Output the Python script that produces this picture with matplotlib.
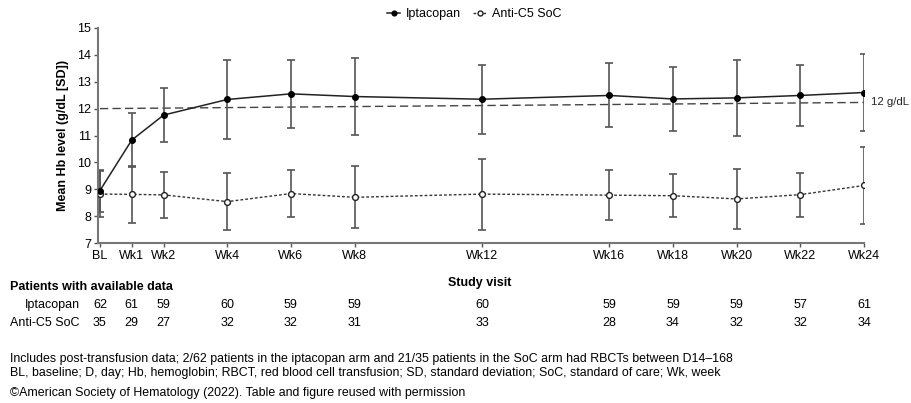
import numpy as np
import matplotlib
matplotlib.use("Agg")
import matplotlib.pyplot as plt
from matplotlib.transforms import blended_transform_factory

plt.rcParams['font.family'] = ['Liberation Sans', 'DejaVu Sans']

# study visits (weeks) and their labels
weeks = [0, 1, 2, 4, 6, 8, 12, 16, 18, 20, 22, 24]
visit_labels = ['BL', 'Wk1', 'Wk2', 'Wk4', 'Wk6', 'Wk8', 'Wk12',
                'Wk16', 'Wk18', 'Wk20', 'Wk22', 'Wk24']

# mean Hb (g/dL) and SD
ipta_mean = [8.95, 10.83, 11.76, 12.34, 12.55, 12.45, 12.35, 12.49, 12.36, 12.40, 12.49, 12.60]
ipta_sd = [0.78, 1.00, 1.02, 1.47, 1.27, 1.43, 1.28, 1.19, 1.20, 1.42, 1.13, 1.43]
soc_mean = [8.82, 8.81, 8.79, 8.54, 8.84, 8.70, 8.82, 8.78, 8.76, 8.64, 8.80, 9.14]
soc_sd = [0.85, 1.06, 0.85, 1.05, 0.86, 1.15, 1.32, 0.92, 0.80, 1.11, 0.82, 1.42]

# reference line (drawn slightly sloped in the source figure)
ref_x = [0, 24]
ref_y = [12.0, 12.23]

# patients with available data
n_ipta = [62, 61, 59, 60, 59, 59, 60, 59, 59, 59, 57, 61]
n_soc = [35, 29, 27, 32, 32, 31, 33, 28, 34, 32, 32, 34]

footnotes = [
    "Includes post-transfusion data; 2/62 patients in the iptacopan arm and 21/35 patients in the SoC arm had RBCTs between D14\u2013168",
    "BL, baseline; D, day; Hb, hemoglobin; RBCT, red blood cell transfusion; SD, standard deviation; SoC, standard of care; Wk, week",
    "\u00a9American Society of Hematology (2022). Table and figure reused with permission",
]

W, H = 912, 403
fig = plt.figure(figsize=(W / 100, H / 100), dpi=100)
ax = fig.add_axes([98 / W, 1 - 243 / H, (864 - 98) / W, (243 - 28) / H])

grey = '#555555'
fs = 9

ax.plot(ref_x, ref_y, color='#444444', lw=1.0, dashes=(6, 3), zorder=1)
ax.text(24.22, ref_y[1], '12 g/dL', fontsize=8.2, va='center', ha='left', color='#222222')

ax.errorbar(weeks, soc_mean, yerr=soc_sd, fmt='none', ecolor=grey, elinewidth=1.2,
            capsize=3, capthick=1.2, zorder=2)
ax.errorbar(weeks, ipta_mean, yerr=ipta_sd, fmt='none', ecolor=grey, elinewidth=1.2,
            capsize=3, capthick=1.2, zorder=2)

ax.plot(weeks, soc_mean, color='#333333', lw=1.0, dashes=(2, 1.5), marker='o', ms=4.2,
        mfc='white', mec='#222222', mew=1.0, label='Anti-C5 SoC', zorder=3)
ax.plot(weeks, ipta_mean, color='#222222', lw=1.1, marker='o', ms=4.0,
        mfc='black', mec='black', label='Iptacopan', zorder=4)

ax.set_xlim(-0.06, 24)
ax.set_ylim(7, 15)
ax.set_yticks(range(7, 16))
ax.set_xticks(weeks)
ax.set_xticklabels(visit_labels)
ax.tick_params(axis='both', labelsize=fs, length=3, width=1, color=grey, pad=2)
for side in ['top', 'right']:
    ax.spines[side].set_visible(False)
for side in ['left', 'bottom']:
    ax.spines[side].set_color('#777777')
    ax.spines[side].set_linewidth(1.5)

ax.set_ylabel('Mean Hb level (g/dL [SD])', fontsize=fs, fontweight='bold', labelpad=6)

handles, labels = ax.get_legend_handles_labels()
fig.legend(handles[::-1], labels[::-1], loc='center', bbox_to_anchor=(474 / W, 1 - 14 / H),
           ncol=2, frameon=False, fontsize=fs, handlelength=1.1, columnspacing=1.0,
           handletextpad=0.4, markerscale=0.85)

# table of patient counts below the axis
tr = blended_transform_factory(ax.transData, fig.transFigure)
fig.text(480 / W, 1 - 283 / H, 'Study visit', fontsize=fs, fontweight='bold',
         ha='center', va='center')
fig.text(10 / W, 1 - 287 / H, 'Patients with available data', fontsize=fs,
         fontweight='bold', ha='left', va='center')
fig.text(80 / W, 1 - 305 / H, 'Iptacopan', fontsize=fs, ha='right', va='center')
fig.text(80 / W, 1 - 323 / H, 'Anti-C5 SoC', fontsize=fs, ha='right', va='center')
for wk, a, b in zip(weeks, n_ipta, n_soc):
    ax.text(wk, 1 - 305 / H, str(a), transform=tr, fontsize=fs, ha='center', va='center')
    ax.text(wk, 1 - 323 / H, str(b), transform=tr, fontsize=fs, ha='center', va='center')

for yy, line in zip([359, 373, 393], footnotes):
    fig.text(10 / W, 1 - yy / H, line, fontsize=8.95, ha='left', va='center')

fig.savefig('out.png', dpi=100)
